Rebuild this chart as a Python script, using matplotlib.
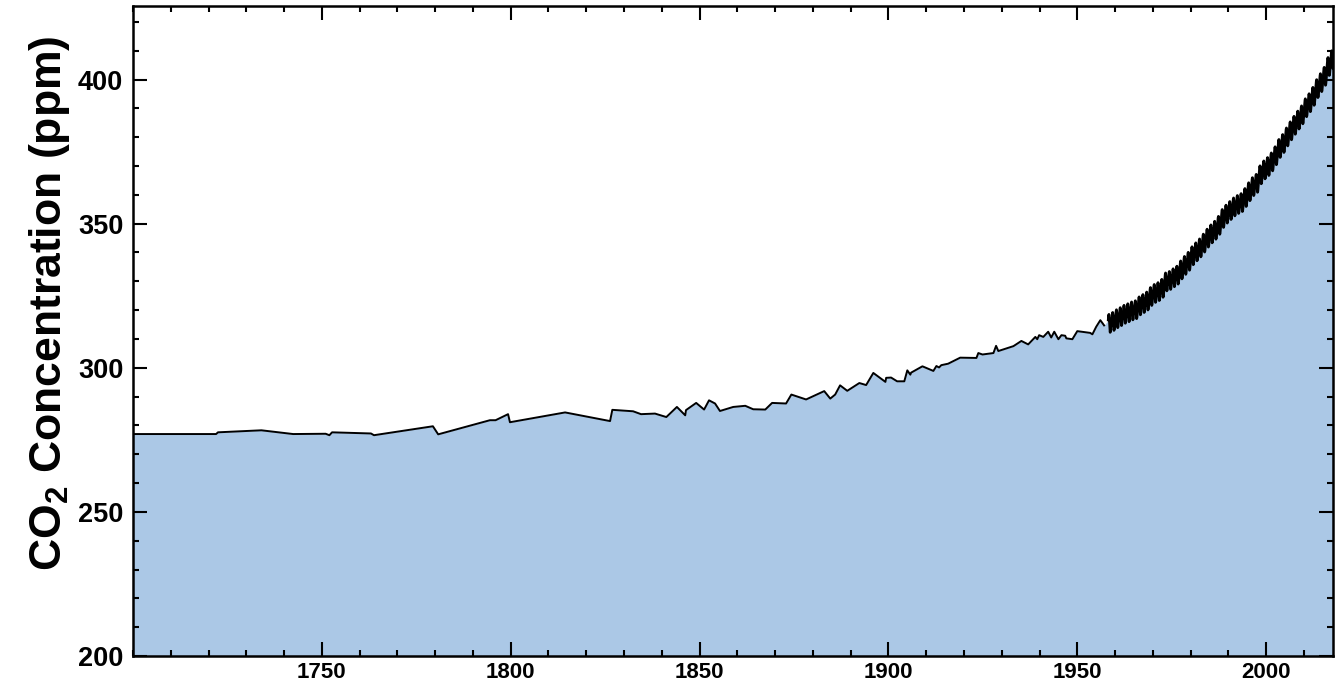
import numpy as np
import matplotlib
matplotlib.use("Agg")
import matplotlib.pyplot as plt
from matplotlib.ticker import MultipleLocator, FixedLocator

# ---- Ice-core record (year, ppm) ----
ice_years = [1700, 1722, 1722.5, 1734, 1742.4, 1751, 1752, 1752.7, 1763, 1763.8,
             1779.4, 1780.8, 1794.5, 1796, 1799.3, 1799.8, 1814.4, 1826.3, 1826.9, 1832.4,
             1834.5, 1838.2, 1841.2, 1844.0, 1846.2, 1846.4, 1849.1, 1851.2, 1852.5, 1854.1,
             1855.4, 1858.9, 1862.1, 1864.2, 1867.4, 1869.2, 1872.9, 1874.3, 1878.2, 1883.0,
             1884.6, 1885.9, 1887.2, 1889.1, 1892.3, 1894.1, 1896.0, 1899.2, 1899.4, 1900.7,
             1902.3, 1904.2, 1905.0, 1905.8, 1906.0, 1909.0, 1911.9, 1912.7, 1913.4, 1914.0,
             1915.8, 1919.0, 1923.3, 1923.8, 1924.9, 1927.8, 1928.5, 1929.1, 1933.1, 1935.2,
             1937.0, 1938.9, 1939.4, 1939.9, 1941.0, 1942.3, 1943.1, 1943.9, 1945.0, 1945.8,
             1946.8, 1947.1, 1948.7, 1950.0, 1953.4, 1954.0, 1955.0, 1956.1, 1957.1]
ice_ppm = [277.0, 277.0, 277.6, 278.3, 277.0, 277.1, 276.6, 277.6, 277.2, 276.6,
           279.7, 276.9, 281.8, 281.8, 283.9, 281.1, 284.5, 281.5, 285.4, 284.9,
           283.9, 284.1, 282.9, 286.4, 283.5, 285.3, 287.8, 285.5, 288.7, 287.6,
           285.0, 286.4, 286.8, 285.6, 285.5, 287.8, 287.6, 290.7, 289.0, 291.9,
           289.3, 290.7, 293.9, 292.0, 294.7, 294.0, 298.2, 295.1, 296.5, 296.6,
           295.3, 295.3, 299.1, 297.6, 298.3, 300.5, 298.9, 300.6, 300.1, 300.9,
           301.4, 303.5, 303.4, 305.1, 304.6, 305.1, 307.6, 305.8, 307.5, 309.3,
           308.1, 310.7, 309.9, 311.3, 310.7, 312.5, 310.5, 312.5, 309.9, 311.3,
           311.1, 310.2, 309.9, 312.7, 312.1, 311.6, 314.2, 316.5, 314.7]

# ---- Mauna Loa: annual means and mean seasonal anomaly by month ----
mlo_years = list(range(1958, 2019))
mlo_annual = [315.30, 315.97, 316.91, 317.64, 318.45, 318.99, 319.62, 320.04, 321.37, 322.18,
              323.05, 324.62, 325.68, 326.32, 327.46, 329.68, 330.19, 331.12, 332.03, 333.84,
              335.41, 336.84, 338.76, 340.12, 341.48, 343.15, 344.87, 346.35, 347.61, 349.31,
              351.69, 353.20, 354.45, 355.70, 356.54, 357.21, 358.96, 360.97, 362.74, 363.88,
              366.84, 368.54, 369.71, 371.32, 373.45, 375.98, 377.70, 379.98, 382.09, 384.02,
              385.83, 387.64, 390.10, 391.85, 394.06, 396.74, 398.81, 401.01, 404.41, 406.76,
              408.72]
seasonal = [-1.3, 0.0, 1.3, 2.7, 3.2, 2.3, 0.35, -1.6, -3.0, -2.6, -1.2, -0.1]

mlo_t, mlo_v = [], []
for yr, base in zip(mlo_years, mlo_annual):
    for m, s in enumerate(seasonal):
        if yr == 1958 and m < 2:
            continue
        mlo_t.append(yr + (m + 0.5) / 12.0)
        mlo_v.append(base + s)

all_t = np.array(ice_years + mlo_t)
all_v = np.array(ice_ppm + mlo_v)

plt.rcParams['font.family'] = ['Liberation Sans', 'DejaVu Sans']
plt.rcParams['mathtext.fontset'] = 'custom'
plt.rcParams['mathtext.rm'] = 'Liberation Sans:bold'
plt.rcParams['mathtext.bf'] = 'Liberation Sans:bold'

fig = plt.figure(figsize=(13.35, 6.84), dpi=100)
ax = fig.add_axes([133/1335, 28/684, 1200/1335, 650/684])

fill_col = '#abc8e6'
ax.fill_between(all_t, 200, all_v, color=fill_col, linewidth=0, zorder=1)
ax.plot(ice_years, ice_ppm, color='black', lw=1.4, zorder=2)
ax.plot(mlo_t, mlo_v, color='black', lw=2.0, zorder=2)

ax.set_xlim(1700, 2017.7)
ax.set_ylim(200, 425.5)

ax.xaxis.set_major_locator(FixedLocator([1750, 1800, 1850, 1900, 1950, 2000]))
ax.xaxis.set_minor_locator(MultipleLocator(10))
ax.yaxis.set_major_locator(MultipleLocator(50))
ax.yaxis.set_minor_locator(MultipleLocator(10))

ax.tick_params(which='both', direction='in', top=True, right=True, width=1.5, color='black')
ax.tick_params(which='major', length=10)
ax.tick_params(which='minor', length=4.5)
ax.tick_params(axis='y', which='major', labelsize=19.5, pad=7)
ax.tick_params(axis='x', which='major', labelsize=16, pad=4)
for lab in ax.get_yticklabels():
    lab.set_fontweight('bold')
for lab in ax.get_xticklabels():
    lab.set_fontweight('bold')

for sp in ax.spines.values():
    sp.set_linewidth(1.8)

ax.set_ylabel(r'CO$_\mathbf{2}$ Concentration (ppm)', fontsize=32, fontweight='bold', labelpad=4)
ax.yaxis.label.set_y(0.543)

fig.savefig('out.png', dpi=100)
